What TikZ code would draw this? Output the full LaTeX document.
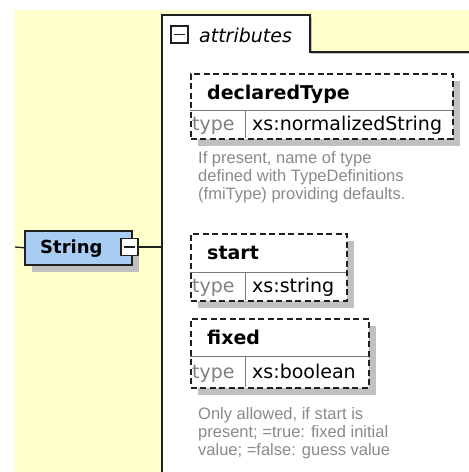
\documentclass[tikz,border=0pt]{standalone}
\usepackage{fontspec}
\setmainfont{DejaVu Sans}
\newfontfamily\notefont{Liberation Sans}
\definecolor{bgyellow}{HTML}{FFFFCC}
\definecolor{stringblue}{HTML}{A9CCF2}
\definecolor{shadowgrey}{HTML}{C0C0C0}
\definecolor{notegrey}{HTML}{8A8A8A}
\definecolor{typegrey}{HTML}{808080}
\definecolor{sepgrey}{HTML}{7A7A7A}
\definecolor{lineblack}{HTML}{202020}
\tikzset{
  panelline/.style={draw=lineblack, line width=1.5pt},
  panelshadow/.style={draw=shadowgrey, line width=1.5pt},
  conn/.style={draw=lineblack, line width=1.3pt},
  shadowfill/.style={fill=shadowgrey},
  stringbox/.style={draw=lineblack, line width=1.5pt, fill=stringblue, inner sep=0pt, anchor=north west, minimum width=107pt, minimum height=34pt},
  minusbox/.style={draw=lineblack, line width=1.2pt, fill=white, inner sep=0pt, minimum width=17pt, minimum height=17pt},
  minusline/.style={draw=lineblack, line width=1.5pt},
  elembox/.style={draw=lineblack, line width=1.7pt, dash pattern=on 6pt off 3.5pt, fill=white, inner sep=0pt, anchor=north west},
  sepline/.style={draw=sepgrey, line width=0.9pt},
  namelbl/.style={font=\fontsize{19}{19}\selectfont\bfseries, anchor=base west, inner sep=0pt},
  stringlbl/.style={font=\fontsize{18}{18}\selectfont\bfseries, anchor=base west, inner sep=0pt},
  typelbl/.style={font=\fontsize{19}{19}\selectfont, text=typegrey, anchor=base west, inner sep=0pt},
  vallbl/.style={font=\fontsize{19}{19}\selectfont, anchor=base west, inner sep=0pt},
  tablbl/.style={font=\fontsize{19}{19}\selectfont\itshape, anchor=base west, inner sep=0pt},
  notelbl/.style={font=\notefont\fontsize{16.5}{18}\selectfont, text=notegrey, anchor=north west, inner sep=0pt, align=left},
}
\begin{document}
\begin{tikzpicture}[x=1pt,y=-1pt]
\useasboundingbox (0,0) rectangle (469,472);
\fill[white] (0,0) rectangle (469,472);
\fill[bgyellow] (15,10) rectangle (469,472);
% attributes panel
\fill[white] (162,472) -- (162,15) -- (310,15) -- (310,52) -- (469,52) -- (469,472) -- cycle;
\draw[panelshadow] (311.5,16.5) -- (311.5,53.5) -- (469,53.5);
\draw[panelline] (162,472) -- (162,15) -- (310,15) -- (310,52) -- (469,52);
\node[minusbox] (tabminus) at (179.5,34.5) {};
\draw[minusline] ([xshift=3.5pt]tabminus.west) -- ([xshift=-3.5pt]tabminus.east);
\node[tablbl] (attrlbl) at (199,42) {attributes};
% String element
\fill[shadowfill] (32,238) rectangle (139,272);
\node[stringbox] (string) at (24,230) {};
\node[stringlbl] (stringtxt) at (40,253.5) {String};
\node[minusbox] (strminus) at (129.5,247) {};
\draw[minusline] ([xshift=3.5pt]strminus.west) -- ([xshift=-3.5pt]strminus.east);
\coordinate (leftend) at (15,247);
\coordinate (panelend) at (162,247);
\draw[conn] (leftend) -- (string.west);
\draw[conn] (strminus.east) -- (panelend);
% declaredType
\fill[shadowfill] (198,81) rectangle (460,146);
\node[elembox, minimum width=262pt, minimum height=65pt] (dt) at (190,73) {};
\draw[sepline] (190,110) -- (452,110);
\draw[sepline] (245,110) -- (245,138);
\node[namelbl] (dtname) at (207,99) {declaredType};
\node[typelbl] (dttype) at (192,130) {type};
\node[vallbl] (dtval) at (252,130) {xs:normalizedString};
\node[notelbl] (dtnote) at (198,151) {If present, name of type\\defined with TypeDefinitions\\(fmiType) providing defaults.};
% start
\fill[shadowfill] (198,241) rectangle (354,308);
\node[elembox, minimum width=156pt, minimum height=67pt] (st) at (190,233) {};
\draw[sepline] (190,272) -- (346,272);
\draw[sepline] (245,272) -- (245,300);
\node[namelbl] (stname) at (207,259) {start};
\node[typelbl] (sttype) at (192,292) {type};
\node[vallbl] (stval) at (252,292) {xs:string};
% fixed
\fill[shadowfill] (198,326) rectangle (376,395);
\node[elembox, minimum width=178pt, minimum height=69pt] (fx) at (190,318) {};
\draw[sepline] (190,356) -- (368,356);
\draw[sepline] (245,356) -- (245,387);
\node[namelbl] (fxname) at (207,344) {fixed};
\node[typelbl] (fxtype) at (192,378) {type};
\node[vallbl] (fxval) at (252,378) {xs:boolean};
\node[notelbl] (fxnote) at (198,407) {Only allowed, if start is\\present; =true: fixed initial\\value; =false: guess value};
\end{tikzpicture}
\end{document}
